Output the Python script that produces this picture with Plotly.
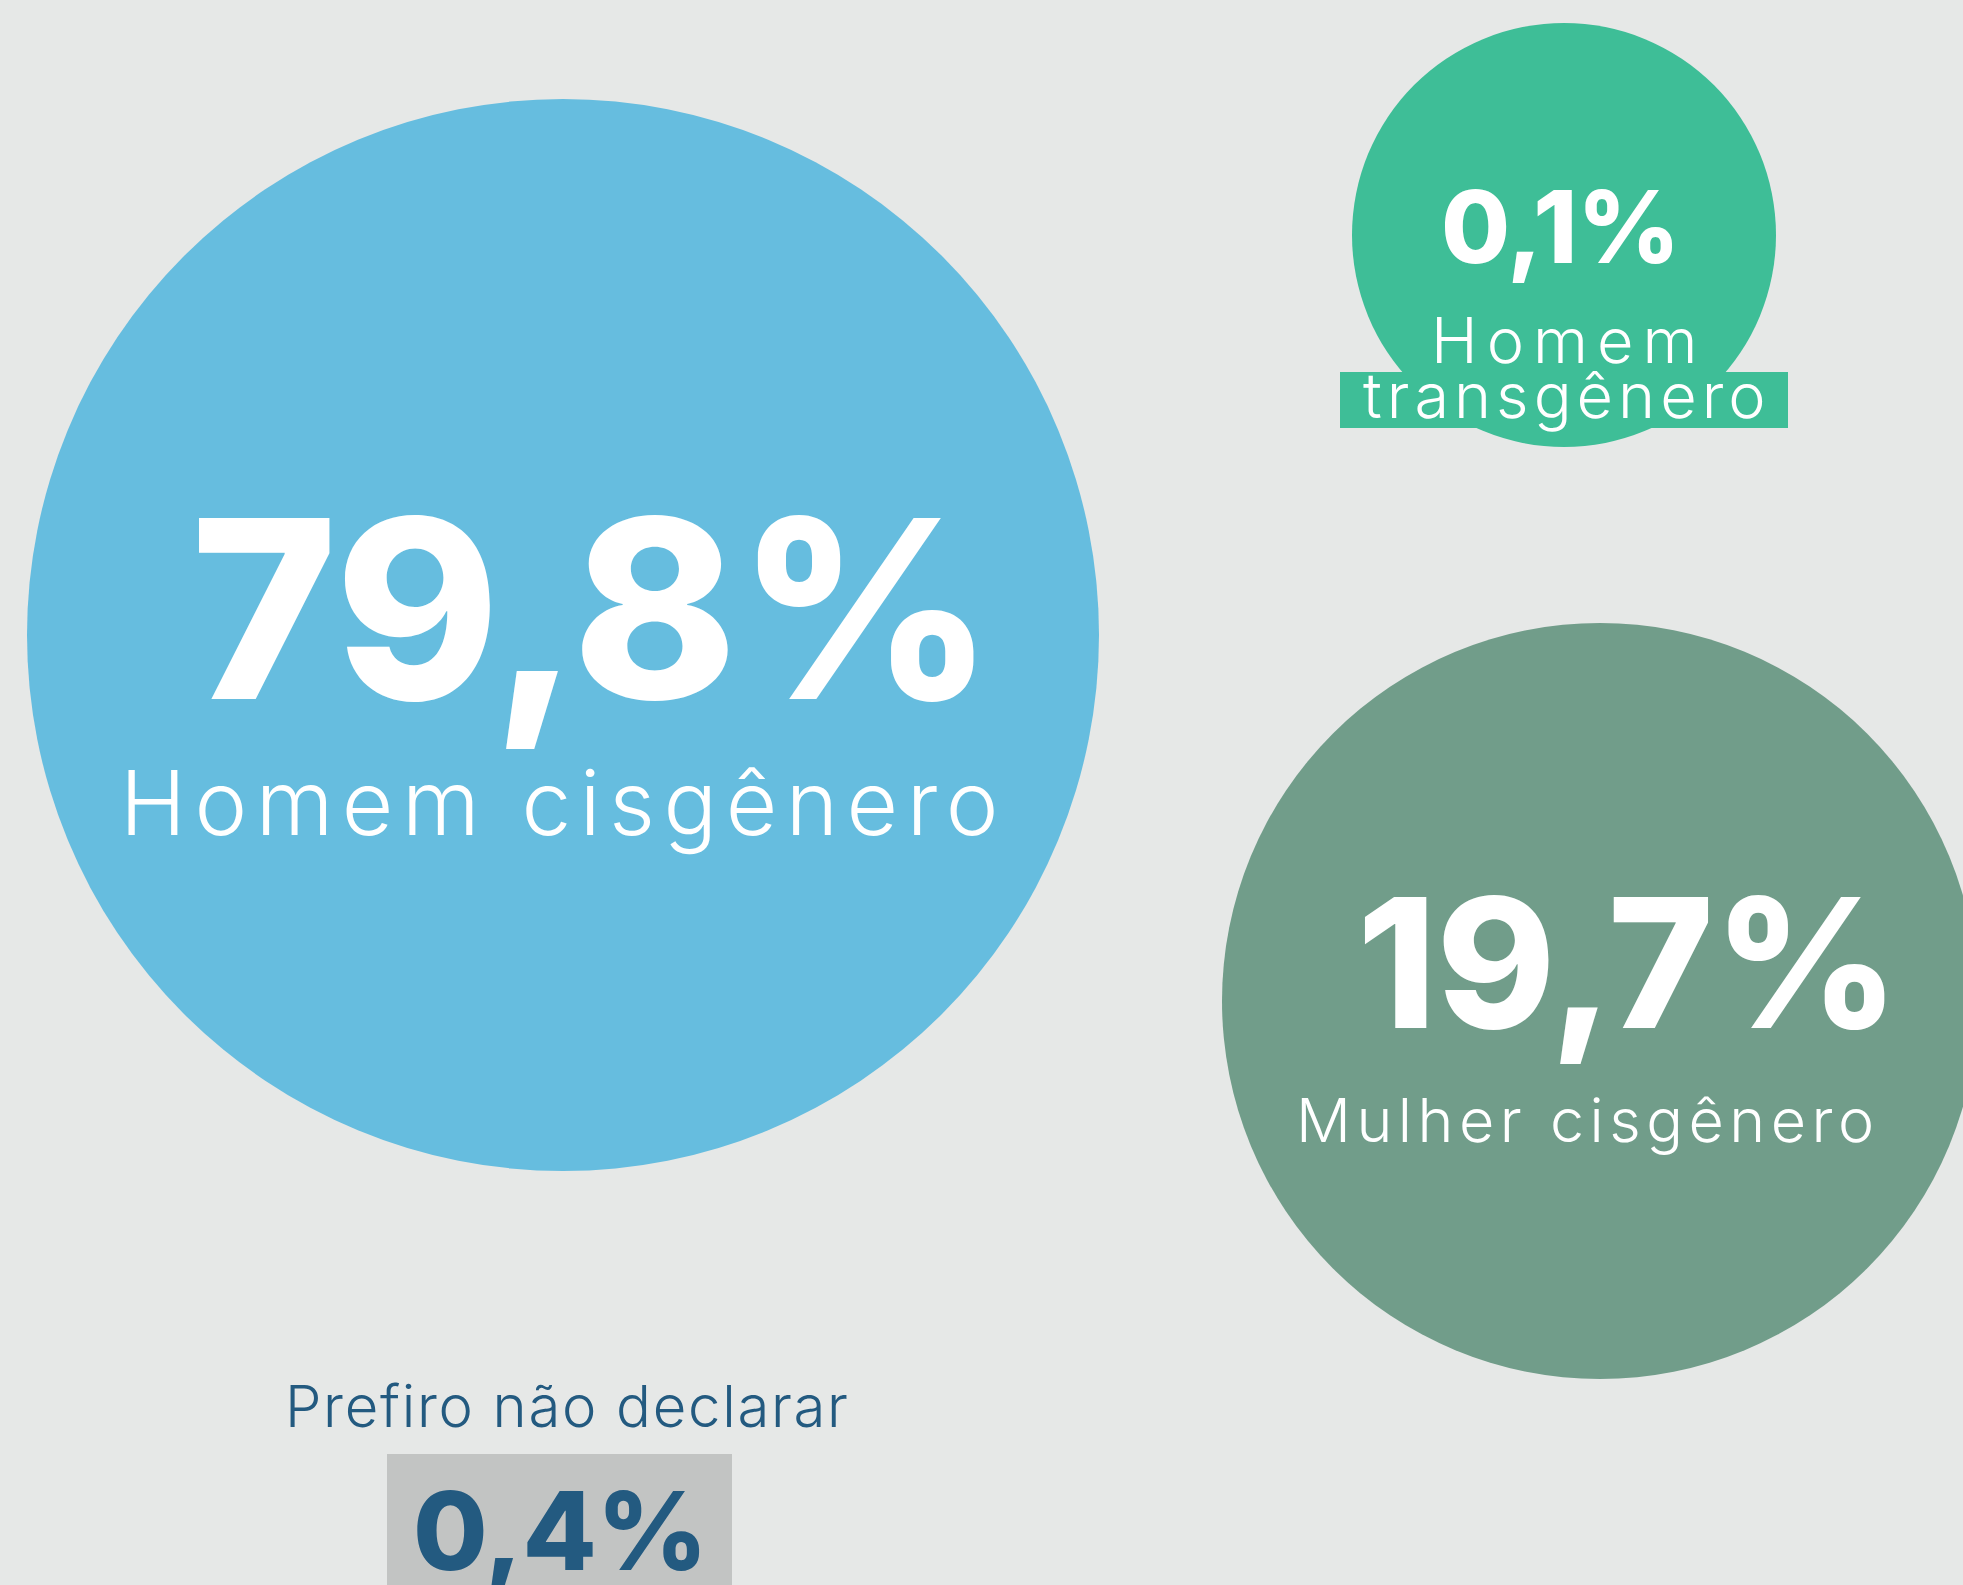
"""
Identidade de gênero - bolhas com percentuais
"""

import plotly.graph_objects as go

# Dados
categorias = ["Homem cisgênero", "Mulher cisgênero", "Homem transgênero", "Prefiro não declarar"]
valores = [79.8, 19.7, 0.1, 0.4]

# Layout das bolhas (px, eixo de 1963 x 1585)
centro_x = [563, 1600, 1564]
centro_y = [635, 1001, 235]
raio = [536, 378, 212]
cores = ["#66bddf", "#719d8a", "#3ebe97"]

W, H = 1963, 1585
BG = "#e6e8e7"
AZUL = "#235a80"
FONTE = "Inter"


def fmt(v):
    return f"{v:.1f}".replace(".", ",") + "%"


def espaco(t, px):
    # espaçamento entre letras (Montserrat é mais larga que a Inter)
    if not px:
        return t
    return f'<span style="letter-spacing:{px}px">{t}</span>'


fig = go.Figure()

# bolhas
shapes = []
for cx, cy, r, c in zip(centro_x, centro_y, raio, cores):
    shapes.append(dict(
        type="circle", xref="x", yref="y",
        x0=cx - r, x1=cx + r, y0=cy - r, y1=cy + r,
        fillcolor=c, line=dict(width=0), layer="below"
    ))

# faixa atrás de "transgênero"
shapes.append(dict(type="rect", xref="x", yref="y", x0=1340, x1=1788, y0=372, y1=428,
                   fillcolor=cores[2], line=dict(width=0), layer="below"))
# caixa cinza do "0,4%"
shapes.append(dict(type="rect", xref="x", yref="y", x0=387, x1=732, y0=1454, y1=1600,
                   fillcolor="#c2c4c3", line=dict(width=0), layer="below"))

rotulo_trans = categorias[2].split(" ")

# textos: (texto, x, y, tamanho, peso, cor, espaçamento)
textos = [
    (fmt(valores[0]), 592, 608, 249, 800, "white", 0),
    (categorias[0], 563, 802, 89, 300, "white", 8.5),
    (fmt(valores[1]), 1628, 962, 180, 800, "white", 0),
    (categorias[1], 1588, 1120, 61, 300, "white", 5.5),
    (fmt(valores[2]), 1560, 226, 100, 800, "white", 0),
    (rotulo_trans[0], 1568, 340, 63, 300, "white", 9),
    (rotulo_trans[1], 1567, 395, 63, 300, "white", 5),
    (categorias[3], 567, 1406, 58, 300, AZUL, 1.7),
    (fmt(valores[3]), 560, 1530, 108, 800, AZUL, 0),
]

annotations = []
for t, x, y, s, w, c, ls in textos:
    annotations.append(dict(
        x=x, y=y, xref="x", yref="y", text=espaco(t, ls), showarrow=False,
        xanchor="center", yanchor="middle",
        font=dict(family=FONTE, size=s, color=c, weight=w)
    ))

fig.add_trace(go.Scatter(x=[0], y=[0], mode="markers", marker=dict(opacity=0),
                         hoverinfo="skip", showlegend=False))

fig.update_layout(
    width=W, height=H,
    margin=dict(l=0, r=0, t=0, b=0),
    paper_bgcolor=BG, plot_bgcolor=BG,
    xaxis=dict(range=[0, W], visible=False, fixedrange=True),
    yaxis=dict(range=[H, 0], visible=False, fixedrange=True),
    shapes=shapes, annotations=annotations,
    showlegend=False,
)

fig.write_html(
    "out.html",
    config={"displayModeBar": False},
    post_script="document.body.style.margin='0';document.body.style.overflow='hidden';",
)
